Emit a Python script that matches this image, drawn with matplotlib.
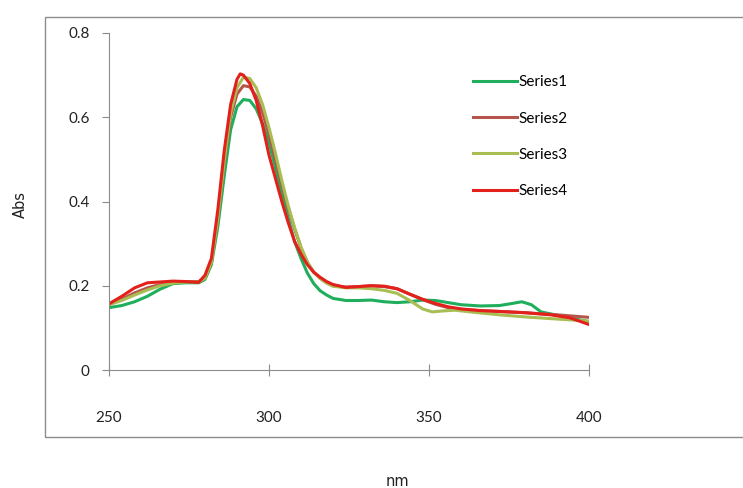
import matplotlib.pyplot as plt
from matplotlib.patches import Rectangle

# wavelength (nm) and absorbance
x1 = [250, 254, 258, 262, 266, 270, 274, 278, 280, 282, 284, 286, 288, 290, 292, 294, 296,
      298, 300, 302, 304, 306, 308, 310, 312, 314, 316, 318, 320, 324, 328, 332, 336, 340,
      344, 348, 352, 356, 360, 366, 372, 376, 379, 382, 385, 390, 395, 400]
s1 = [0.148, 0.153, 0.162, 0.175, 0.192, 0.205, 0.207, 0.207, 0.215, 0.250, 0.340, 0.460,
      0.570, 0.625, 0.642, 0.640, 0.620, 0.585, 0.540, 0.480, 0.420, 0.360, 0.305, 0.265,
      0.230, 0.205, 0.188, 0.178, 0.170, 0.165, 0.165, 0.166, 0.162, 0.160, 0.162, 0.166,
      0.165, 0.160, 0.155, 0.152, 0.153, 0.158, 0.162, 0.155, 0.138, 0.130, 0.122, 0.115]

x2 = [250, 254, 258, 262, 266, 270, 274, 278, 280, 282, 284, 286, 288, 290, 292, 294, 296,
      298, 300, 302, 304, 306, 308, 310, 312, 314, 316, 318, 320, 324, 328, 332, 336, 340,
      344, 348, 352, 356, 360, 366, 372, 380, 390, 400]
s2 = [0.155, 0.168, 0.183, 0.195, 0.203, 0.208, 0.210, 0.210, 0.218, 0.255, 0.360, 0.490,
      0.600, 0.655, 0.675, 0.672, 0.650, 0.610, 0.560, 0.500, 0.440, 0.385, 0.335, 0.290,
      0.255, 0.232, 0.218, 0.208, 0.200, 0.197, 0.198, 0.200, 0.198, 0.193, 0.180, 0.167,
      0.156, 0.148, 0.144, 0.141, 0.139, 0.136, 0.131, 0.125]

x3 = [250, 254, 258, 262, 266, 270, 274, 278, 280, 282, 284, 286, 288, 290, 292, 294, 296,
      298, 300, 302, 304, 306, 308, 310, 312, 314, 316, 318, 320, 324, 328, 332, 336, 340,
      344, 348, 351, 354, 358, 364, 372, 380, 390, 400]
s3 = [0.155, 0.165, 0.178, 0.190, 0.200, 0.206, 0.209, 0.209, 0.218, 0.255, 0.360, 0.495,
      0.610, 0.670, 0.695, 0.692, 0.670, 0.630, 0.575, 0.515, 0.450, 0.390, 0.338, 0.292,
      0.256, 0.232, 0.217, 0.206, 0.199, 0.195, 0.195, 0.193, 0.189, 0.182, 0.165, 0.145,
      0.138, 0.140, 0.142, 0.137, 0.131, 0.126, 0.121, 0.116]

x4 = [250, 254, 258, 262, 266, 270, 274, 278, 280, 282, 284, 286, 288, 290, 291, 292, 294,
      296, 298, 300, 302, 304, 306, 308, 310, 312, 314, 316, 318, 320, 324, 328, 332, 336,
      340, 344, 348, 352, 356, 360, 366, 372, 380, 388, 394, 400]
s4 = [0.157, 0.175, 0.195, 0.207, 0.209, 0.211, 0.210, 0.208, 0.225, 0.265, 0.380, 0.520,
      0.630, 0.690, 0.703, 0.700, 0.680, 0.640, 0.580, 0.510, 0.455, 0.400, 0.350, 0.305,
      0.275, 0.250, 0.232, 0.220, 0.210, 0.203, 0.196, 0.198, 0.200, 0.199, 0.193, 0.180,
      0.168, 0.158, 0.150, 0.145, 0.141, 0.139, 0.136, 0.131, 0.124, 0.108]

names = ['Series1', 'Series2', 'Series3', 'Series4']
colors = ['#1fae5c', '#b4564c', '#a8bd52', '#e3201b']

tick_font = ['Lato', 'DejaVu Sans']

fig = plt.figure(figsize=(7.43, 4.88), dpi=100)
fig.patches.append(Rectangle((45 / 743, 1 - 437 / 488), 1.0, 420 / 488, transform=fig.transFigure,
                             fill=False, edgecolor='#8c8c8c', linewidth=1.0))
ax = fig.add_axes([109 / 743, 1 - 370 / 488, 480 / 743, 337 / 488])

for xs, ys, name, c in zip([x1, x2, x3, x4], [s1, s2, s3, s4], names, colors):
    ax.plot(xs, ys, color=c, linewidth=2.2, label=name, solid_joinstyle='round')

ax.set_xlim(250, 400)
ax.set_ylim(0, 0.8)
ax.set_xticks([250, 300, 350, 400])
ax.set_yticks([0, 0.2, 0.4, 0.6, 0.8])
ax.set_yticklabels(['0', '0.2', '0.4', '0.6', '0.8'])
for s in ['top', 'right']:
    ax.spines[s].set_visible(False)
for s in ['left', 'bottom']:
    ax.spines[s].set_color('#8c8c8c')
ax.tick_params(axis='x', direction='inout', length=9, color='#8c8c8c', pad=25,
               labelsize=11, labelcolor='#222222')
ax.tick_params(axis='y', direction='out', length=5, color='#8c8c8c', pad=9,
               labelsize=11, labelcolor='#222222')
for t in ax.get_xticklabels() + ax.get_yticklabels():
    t.set_family(tick_font)

leg = ax.legend(loc='upper left', bbox_to_anchor=(0.73, 0.915), frameon=False,
                handlelength=2.9, handletextpad=0.05, labelspacing=1.45,
                prop={'family': tick_font, 'size': 11})

fig.text(20 / 743, 1 - 205 / 488, 'Abs', rotation=90, ha='center', va='center',
         fontsize=10.5, color='#222222')
fig.text(397 / 743, 1 - 482 / 488, 'nm', ha='center', va='center',
         fontsize=10.5, color='#222222')

fig.savefig('out.png', dpi=100)
